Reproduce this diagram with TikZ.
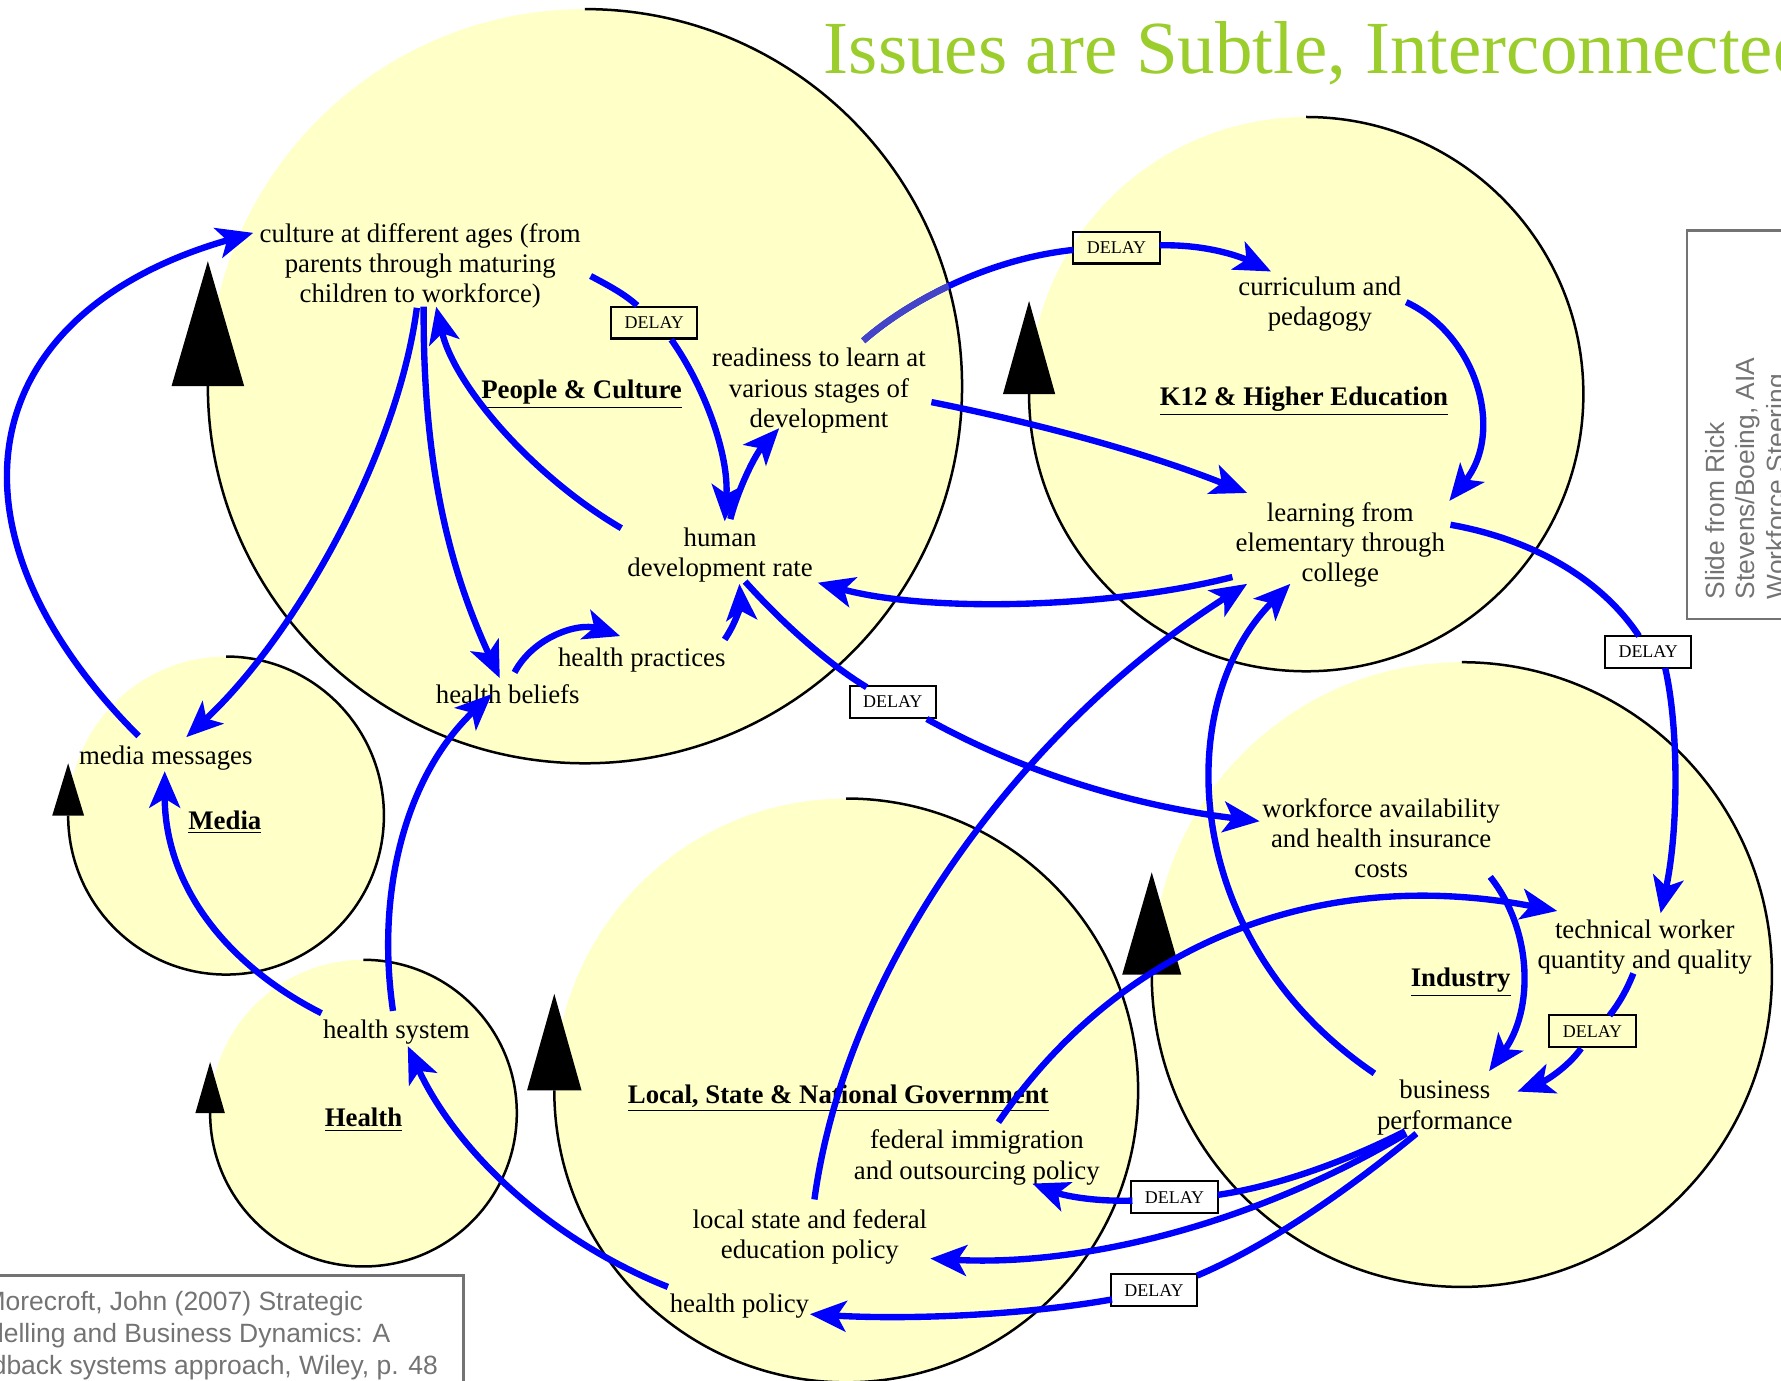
\documentclass[tikz,border=0pt]{standalone}
\usepackage{fontspec}
\setmainfont{Liberation Serif}
\newfontfamily\sansfam{Liberation Sans}
\usetikzlibrary{arrows.meta}
\definecolor{loopyellow}{RGB}{255,255,200}
\definecolor{titlegreen}{RGB}{155,205,45}
\definecolor{notegray}{RGB}{115,115,115}
\definecolor{dimblue}{RGB}{68,68,200}
\newcommand{\secline}[1]{\underline{#1}}
\begin{document}
\begin{tikzpicture}[x=0.5pt,y=-0.5pt,
  lbl/.style={font=\fontsize{11.8}{13.3}\selectfont, align=center, inner sep=0pt},
  sector/.style={font=\fontsize{11.8}{13.3}\selectfont\bfseries, inner sep=0pt},
  delaybox/.style={draw=black, line width=0.9pt, minimum width=38pt, minimum height=14pt, inner sep=0pt, font=\fontsize{7.9}{9}\selectfont},
  link/.style={draw=blue, line width=2.8pt, -{Stealth[length=16pt,width=13.5pt,inset=4pt]}},
  linkseg/.style={draw=blue, line width=2.8pt},
  loopfill/.style={fill=loopyellow},
  looparc/.style={draw=black, line width=1.1pt},
  loophead/.style={fill=black},
  note/.style={font=\sansfam\fontsize{11.6}{13.5}\selectfont, text=notegray, inner sep=0pt},
  cite/.style={font=\sansfam\fontsize{11.65}{14}\selectfont, text=notegray, inner sep=0pt},
  notebox/.style={draw=notegray, line width=1pt}
]
\useasboundingbox (0,0) rectangle (1568,1215);
\clip (0,0) rectangle (1568,1215);

% ---------- loop circles (fills) ----------
\fill[loopfill] (515,340) ellipse [x radius=332, y radius=332];
\fill[loopfill] (1150,347) ellipse [x radius=244, y radius=244];
\fill[loopfill] (199,718) ellipse [x radius=139, y radius=140];
\fill[loopfill] (320,980) ellipse [x radius=135, y radius=135];
\fill[loopfill] (745,960) ellipse [x radius=257, y radius=257];
\fill[loopfill] (1287,858) ellipse [x radius=273, y radius=275];

% ---------- loop arcs and heads ----------
\draw[looparc] (515,8) arc [start angle=-90, end angle=180, x radius=332, y radius=332];
\fill[loophead] (183,230) -- (151,340) -- (215,340) -- cycle;
\draw[looparc] (1150,103) arc [start angle=-90, end angle=180, x radius=244, y radius=244];
\fill[loophead] (906,265) -- (883,347) -- (929,347) -- cycle;
\draw[looparc] (199,578) arc [start angle=-90, end angle=180, x radius=139, y radius=140];
\fill[loophead] (60,672) -- (46,718) -- (74,718) -- cycle;
\draw[looparc] (320,845) arc [start angle=-90, end angle=180, x radius=135, y radius=135];
\fill[loophead] (185,935) -- (172,980) -- (198,980) -- cycle;
\draw[looparc] (745,703) arc [start angle=-90, end angle=180, x radius=257, y radius=257];
\fill[loophead] (488,875) -- (464,960) -- (512,960) -- cycle;
\draw[looparc] (1287,583) arc [start angle=-90, end angle=180, x radius=273, y radius=275];
\fill[loophead] (1014,768) -- (988,858) -- (1040,858) -- cycle;

% ---------- title and notes ----------
\node[anchor=base west, text=titlegreen, font=\fontsize{33}{40}\selectfont, inner sep=0pt] (title) at (725,65) {Issues are Subtle, Interconnected};

\draw[notebox] (1485,203) rectangle (1620,545);
\node[note, rotate=90, anchor=base west] (side1) at (1518,528) {Slide from Rick};
\node[note, rotate=90, anchor=base west] (side2) at (1545,528) {Stevens/Boeing, AIA};
\node[note, rotate=90, anchor=base west] (side3) at (1572,528) {Workforce Steering};

\draw[notebox] (-20,1123) rectangle (408,1240);
\node[cite, anchor=base east] (cite1) at (320,1154) {Morecroft, John (2007) Strategic};
\node[cite, anchor=base east] (cite2) at (344,1182) {Modelling and Business Dynamics: A};
\node[cite, anchor=base east] (cite3) at (386,1210) {feedback systems approach, Wiley, p. 48};

% ---------- sector labels ----------
\node[sector] (secpc) at (512,347) {\secline{People \& Culture}};
\node[sector] (seck12) at (1148,353) {\secline{K12 \& Higher Education}};
\node[sector] (secmedia) at (198,724) {\secline{Media}};
\node[sector] (sechealth) at (320,986) {\secline{Health}};
\node[sector] (secgov) at (738,967) {\secline{Local, State \& National Government}};
\node[sector] (secind) at (1286,865) {\secline{Industry}};

% ---------- variables ----------
\node[lbl] (culture) at (370,234) {culture at different ages (from\\parents through maturing\\children to workforce)};
\node[lbl] (readiness) at (721,344) {readiness to learn at\\various stages of\\development};
\node[lbl] (human) at (634,489) {human\\development rate};
\node[lbl] (hpract) at (565,581) {health practices};
\node[lbl] (hbelief) at (447,611) {health beliefs};
\node[lbl] (media) at (146,667) {media messages};
\node[lbl] (hsys) at (349,909) {health system};
\node[lbl] (hpol) at (651,1150) {health policy};
\node[lbl] (edpol) at (713,1089) {local state and federal\\education policy};
\node[lbl] (immig) at (860,1019) {federal immigration\\and outsourcing policy};
\node[lbl] (curric) at (1162,268) {curriculum and\\pedagogy};
\node[lbl] (learn) at (1180,480) {learning from\\elementary through\\college};
\node[lbl] (workf) at (1216,738) {workforce availability\\and health insurance\\costs};
\node[lbl] (tech) at (1448,834) {technical worker\\quantity and quality};
\node[lbl] (biz) at (1272,975) {business\\performance};

% ---------- delay boxes ----------
\node[delaybox] (d1) at (576,284) {DELAY};
\node[delaybox] (d2) at (983,218) {DELAY};
\node[delaybox] (d3) at (786,618) {DELAY};
\node[delaybox] (d4) at (1451,574) {DELAY};
\node[delaybox] (d5) at (1402,908) {DELAY};
\node[delaybox] (d6) at (1034,1054) {DELAY};
\node[delaybox] (d7) at (1016,1136) {DELAY};

% ---------- connector ports ----------
\coordinate (media-up) at (122,648);
\coordinate (culture-w) at (223,205);
\coordinate (culture-s1) at (367,271);
\coordinate (media-ne) at (164,649);
\coordinate (culture-s2) at (373,270);
\coordinate (hbelief-n) at (440,597);
\coordinate (human-w) at (547,465);
\coordinate (culture-s3) at (384,270);
\coordinate (culture-e) at (520,243);
\coordinate (d1-in) at (561,269);
\coordinate (d1-out) at (591,299);
\coordinate (human-n1) at (638,459);
\coordinate (human-n2) at (643,457);
\coordinate (readiness-s) at (686,377);
\coordinate (readiness-n) at (760,300);
\coordinate (d2-in) at (945,220);
\coordinate (d2-out) at (1021,216);
\coordinate (curric-w) at (1119,239);
\coordinate (readiness-e) at (820,354);
\coordinate (learn-nw) at (1098,434);
\coordinate (curric-e) at (1238,266);
\coordinate (learn-ne) at (1276,441);
\coordinate (learn-w) at (1085,508);
\coordinate (human-e) at (720,513);
\coordinate (learn-e) at (1277,462);
\coordinate (d4-in) at (1443,560);
\coordinate (d4-out) at (1466,588);
\coordinate (tech-n) at (1462,804);
\coordinate (human-se) at (656,512);
\coordinate (d3-in) at (763,605);
\coordinate (d3-out) at (816,633);
\coordinate (workf-w) at (1109,723);
\coordinate (hbelief-ne) at (453,592);
\coordinate (hpract-w) at (546,560);
\coordinate (hpract-e) at (638,563);
\coordinate (human-s) at (651,514);
\coordinate (hsys-n) at (346,890);
\coordinate (hbelief-s) at (433,611);
\coordinate (hsys-w) at (283,892);
\coordinate (media-s) at (145,679);
\coordinate (hpol-w) at (588,1133);
\coordinate (hsys-s) at (359,921);
\coordinate (edpol-n) at (717,1056);
\coordinate (learn-sw) at (1098,514);
\coordinate (biz-nw) at (1210,945);
\coordinate (learn-s) at (1136,514);
\coordinate (workf-se) at (1312,772);
\coordinate (biz-ne) at (1311,943);
\coordinate (immig-n) at (879,988);
\coordinate (tech-w) at (1371,802);
\coordinate (tech-s) at (1438,857);
\coordinate (d5-in) at (1417,894);
\coordinate (d5-out) at (1392,923);
\coordinate (biz-e) at (1336,961);
\coordinate (biz-s1) at (1237,996);
\coordinate (d6-in) at (1072,1052);
\coordinate (d6-out) at (997,1057);
\coordinate (immig-e) at (909,1042);
\coordinate (biz-s2) at (1238,998);
\coordinate (edpol-e) at (819,1108);
\coordinate (biz-s3) at (1247,998);
\coordinate (d7-in) at (1054,1123);
\coordinate (d7-out) at (979,1144);
\coordinate (hpol-e) at (713,1157);

% ---------- connectors ----------
\draw[link] (media-up) .. controls (-58,468) and (-26,276) .. (culture-w);
\draw[link] (culture-s1) .. controls (350,400) and (260,560) .. (media-ne);
\draw[link] (culture-s2) .. controls (372,420) and (400,510) .. (hbelief-n);
\draw[link] (human-w) .. controls (470,420) and (400,340) .. (culture-s3);
\draw[linkseg] (culture-e) .. controls (537,252) and (550,259) .. (d1-in);
\draw[link] (d1-out) .. controls (620,340) and (642,400) .. (human-n1);
\draw[link] (human-n2) .. controls (650,430) and (665,400) .. (readiness-s);
\draw[linkseg] (readiness-n) .. controls (800,265) and (870,228) .. (d2-in);
\begin{scope}
  \clip (515,340) ellipse [x radius=332, y radius=332];
  \draw[linkseg, draw=dimblue] (readiness-n) .. controls (800,265) and (870,228) .. (d2-in);
\end{scope}
\draw[link] (d2-out) .. controls (1060,215) and (1090,225) .. (curric-w);
\draw[link] (readiness-e) .. controls (900,370) and (1000,395) .. (learn-nw);
\draw[link] (curric-e) .. controls (1300,295) and (1325,380) .. (learn-ne);
\draw[link] (learn-w) .. controls (980,535) and (820,540) .. (human-e);
\draw[linkseg] (learn-e) .. controls (1350,475) and (1410,510) .. (d4-in);
\draw[link] (d4-out) .. controls (1478,640) and (1478,730) .. (tech-n);
\draw[linkseg] (human-se) .. controls (690,550) and (730,585) .. (d3-in);
\draw[link] (d3-out) .. controls (900,680) and (1000,710) .. (workf-w);
\draw[link] (hbelief-ne) .. controls (470,560) and (510,548) .. (hpract-w);
\draw[link] (hpract-e) .. controls (650,545) and (652,530) .. (human-s);
\draw[link] (hsys-n) .. controls (330,780) and (360,680) .. (hbelief-s);
\draw[link] (hsys-w) .. controls (200,850) and (145,780) .. (media-s);
\draw[link] (hpol-w) .. controls (480,1090) and (400,1010) .. (hsys-s);
\draw[link] (edpol-n) .. controls (745,850) and (900,640) .. (learn-sw);
\draw[link] (biz-nw) .. controls (1040,830) and (1030,620) .. (learn-s);
\draw[link] (workf-se) .. controls (1350,820) and (1350,890) .. (biz-ne);
\draw[link] (immig-n) .. controls (980,840) and (1150,760) .. (tech-w);
\draw[linkseg] (tech-s) .. controls (1432,872) and (1425,884) .. (d5-in);
\draw[link] (d5-out) .. controls (1380,940) and (1360,952) .. (biz-e);
\draw[linkseg] (biz-s1) .. controls (1180,1025) and (1120,1045) .. (d6-in);
\draw[link] (d6-out) .. controls (960,1058) and (935,1052) .. (immig-e);
\draw[link] (biz-s2) .. controls (1100,1080) and (950,1115) .. (edpol-e);
\draw[linkseg] (biz-s3) .. controls (1190,1045) and (1120,1095) .. (d7-in);
\draw[link] (d7-out) .. controls (900,1158) and (800,1162) .. (hpol-e);
\end{tikzpicture}
\end{document}
